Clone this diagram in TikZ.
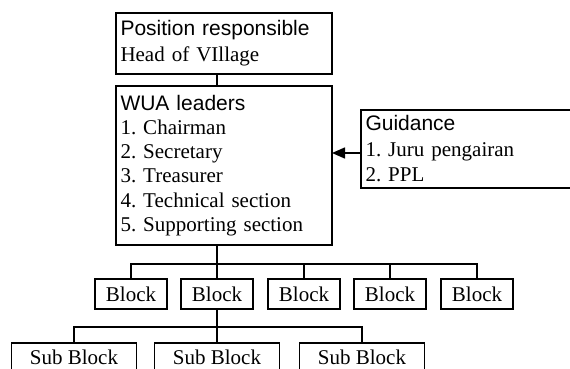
\documentclass[tikz,border=0pt]{standalone}
\usepackage{fontspec}
\setmainfont{Liberation Serif}
\newfontfamily\headfont{Liberation Sans}
\usetikzlibrary{arrows.meta}
\frenchspacing

\begin{document}
\begin{tikzpicture}[x=1pt, y=-1pt, line width=1.5pt,
    box/.style={draw, rectangle, anchor=north west, outer sep=0pt, inner xsep=4.5pt, inner ysep=0pt, align=left, font=\fontsize{21}{24.2}\selectfont},
    blockbox/.style={draw, rectangle, outer sep=0pt, inner sep=0pt, minimum width=72pt, minimum height=30pt, font=\fontsize{21}{24}\selectfont},
    subbox/.style={draw, rectangle, anchor=north, outer sep=0pt, inner sep=0pt, minimum width=125pt, minimum height=29pt, font=\fontsize{21}{24}\selectfont}]
    \useasboundingbox (0,0) rectangle (570,369);
    \clip (0,0) rectangle (570,369);
    \node [box, text width=207pt, minimum height=61pt, font=\fontsize{21}{26}\selectfont] (resp) at (116,13) {{\headfont Position responsible}\\Head of VIllage};
    \node [box, text width=207pt, minimum height=159pt] (wua) at (116,86) {{\headfont WUA leaders}\\1. Chairman\\2. Secretary\\3. Treasurer\\4. Technical section\\5. Supporting section};
    \node [box, text width=231pt, minimum height=78pt, font=\fontsize{21}{25.5}\selectfont] (guide) at (361,110) {{\headfont Guidance}\\1. Juru pengairan\\2. PPL};
    \foreach \i/\x in {1/131,2/217,3/304,4/390,5/477}
        \node [blockbox] (b\i) at (\x,294) {Block};
    \foreach \i/\x in {1/74,2/217,3/362}
        \node [subbox] (s\i) at (\x,343) {Sub Block};
    \draw (resp.south -| b2.north) -- (wua.north -| b2.north);
    \foreach \i in {1,...,5}
        \draw (b\i.north) -- ++(0,-15) -| (wua.south -| b2.north);
    \foreach \i in {1,2,3}
        \draw (s\i.north) -- ++(0,-16) -| (b2.south);
    \coordinate (arr) at ([yshift=-4pt]guide.west);
    \draw [-{Triangle[length=13pt,width=11pt]}] (arr) -- (arr -| wua.east);
\end{tikzpicture}
\end{document}
